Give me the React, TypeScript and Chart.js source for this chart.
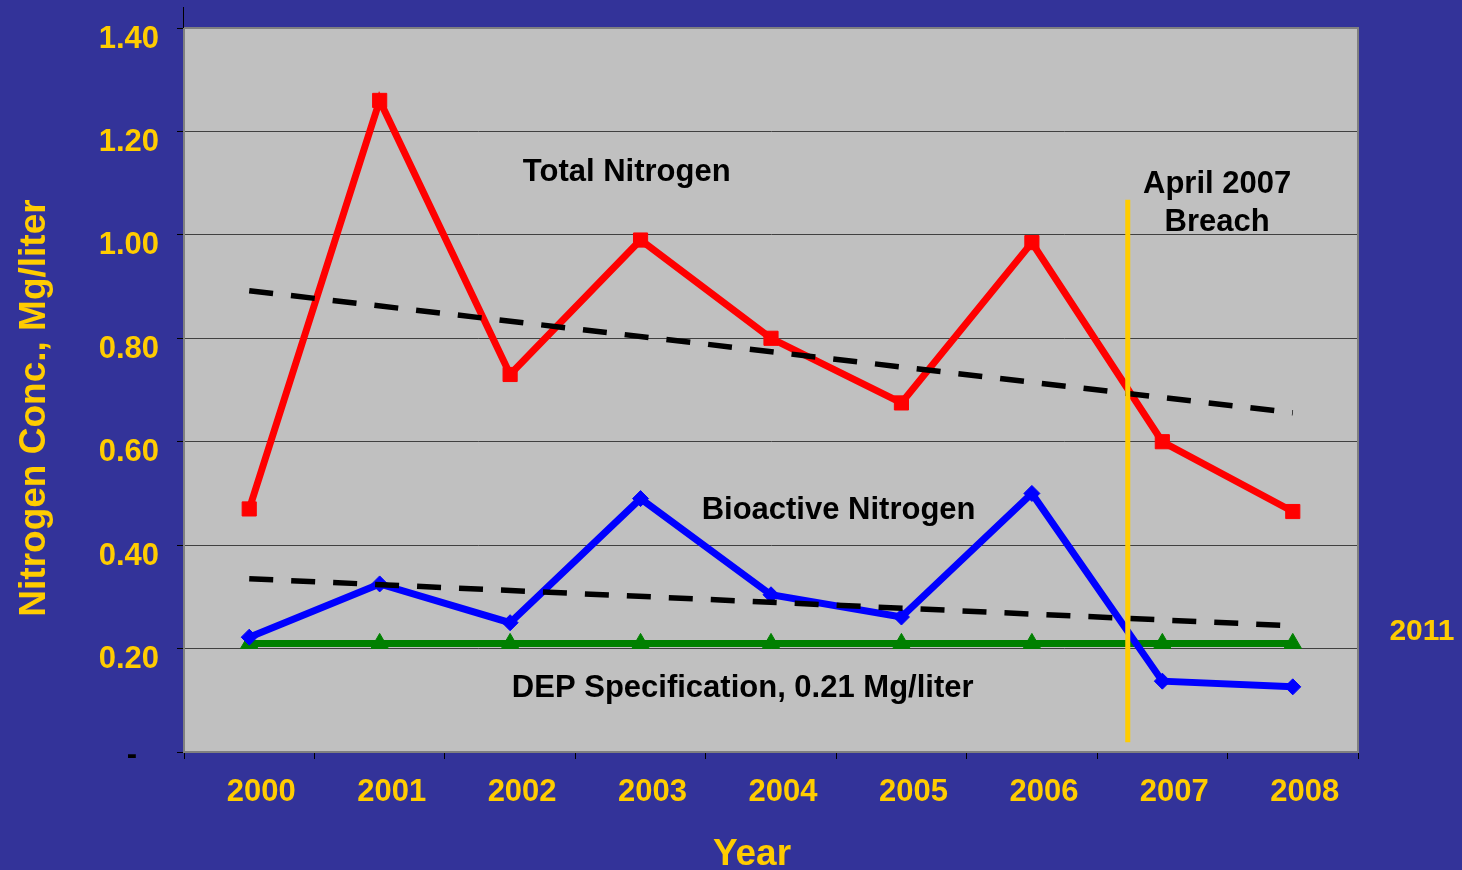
import React, { useEffect, useRef } from "react";
import { Chart, registerables } from "chart.js";

Chart.register(...registerables);

const years = ["2000", "2001", "2002", "2003", "2004", "2005", "2006", "2007", "2008"];
const totalNitrogen = [0.47, 1.26, 0.73, 0.99, 0.8, 0.675, 0.985, 0.6, 0.465];
const bioactiveNitrogen = [0.222, 0.325, 0.25, 0.49, 0.304, 0.261, 0.5, 0.137, 0.126];
const depSpec = [0.21, 0.21, 0.21, 0.21, 0.21, 0.21, 0.21, 0.21, 0.21];
const totalTrend = [0.892, null, null, null, null, null, null, null, 0.656];
const bioTrend = [0.335, null, null, null, null, null, null, null, 0.244];
const breachLine = [
  { x: 6.735, y: 1.068 },
  { x: 6.735, y: 0.019 },
];
const yTicks = [0, 0.2, 0.4, 0.6, 0.8, 1.0, 1.2, 1.4];

const FONT = "'Liberation Sans', Arial, sans-serif";
const YELLOW = "#FFCC00";

const decorPlugin = {
  id: "decor",
  beforeDatasetsDraw(chart: any) {
    const { ctx, chartArea } = chart;
    ctx.save();
    ctx.strokeStyle = "#808080";
    ctx.lineWidth = 2;
    ctx.strokeRect(chartArea.left, chartArea.top, chartArea.right - chartArea.left, chartArea.bottom - chartArea.top);
    ctx.strokeStyle = "#000";
    ctx.lineWidth = 1;
    ctx.beginPath();
    ctx.moveTo(chartArea.left - 0.5, 7);
    ctx.lineTo(chartArea.left - 0.5, chartArea.top);
    ctx.stroke();
    ctx.restore();
  },
  afterDraw(chart: any) {
    const { ctx, chartArea } = chart;
    const xs = chart.scales.x2;
    const ys = chart.scales.y;
    const notes = [
      { text: "Total Nitrogen", x: 2.894, y: 1.12, color: "#000", size: 31 },
      { text: "Bioactive Nitrogen", x: 4.518, y: 0.467, color: "#000", size: 31 },
      { text: "DEP Specification, 0.21 Mg/liter", x: 3.783, y: 0.122, color: "#000", size: 31 },
      { text: "April 2007", x: 7.42, y: 1.097, color: "#000", size: 31 },
      { text: "Breach", x: 7.42, y: 1.024, color: "#000", size: 31 },
      { text: "2011", x: 8.99, y: 0.232, color: YELLOW, size: 30 },
    ];
    ctx.save();
    ctx.textAlign = "center";
    ctx.textBaseline = "middle";
    for (const n of notes) {
      ctx.fillStyle = n.color;
      ctx.font = `bold ${n.size}px ${FONT}`;
      ctx.fillText(n.text, xs.getPixelForValue(n.x), ys.getPixelForValue(n.y));
    }
    // zero tick label, Excel accounting style dash
    ctx.fillStyle = "#000";
    ctx.font = `bold 31px ${FONT}`;
    ctx.textAlign = "right";
    ctx.fillText("-", chartArea.left - 47, ys.getPixelForValue(0) + 3);
    // axis titles
    ctx.textAlign = "center";
    ctx.fillStyle = YELLOW;
    ctx.font = `bold 37px ${FONT}`;
    ctx.textBaseline = "alphabetic";
    ctx.fillText("Year", 752, 865);
    ctx.translate(45, 408);
    ctx.rotate(-Math.PI / 2);
    ctx.fillText("Nitrogen Conc., Mg/liter", 0, 0);
    ctx.restore();
  },
};

export default function App() {
  const canvasRef = useRef<HTMLCanvasElement | null>(null);

  useEffect(() => {
    const canvas = canvasRef.current;
    if (!canvas) return;
    const chart = new Chart(canvas, {
      type: "line",
      data: {
        labels: years,
        datasets: [
          {
            label: "April 2007 Breach",
            data: breachLine as any,
            xAxisID: "x2",
            borderColor: YELLOW,
            borderWidth: 5,
            pointRadius: 0,
            order: 0,
          },
          {
            label: "Total trend",
            data: totalTrend,
            spanGaps: true,
            borderColor: "#000",
            borderWidth: 5.5,
            borderDash: [24, 18],
            pointRadius: 0,
            order: 1,
          },
          {
            label: "Bioactive trend",
            data: bioTrend,
            spanGaps: true,
            borderColor: "#000",
            borderWidth: 5.5,
            borderDash: [24, 18],
            pointRadius: 0,
            order: 1,
          },
          {
            label: "Total Nitrogen",
            data: totalNitrogen,
            borderColor: "#FF0000",
            backgroundColor: "#FF0000",
            borderWidth: 7,
            pointStyle: "rect",
            pointRadius: 10,
            pointBorderWidth: 1,
            order: 2,
          },
          {
            label: "Bioactive Nitrogen",
            data: bioactiveNitrogen,
            borderColor: "#0000FF",
            backgroundColor: "#0000FF",
            borderWidth: 7,
            pointStyle: "rectRot",
            pointRadius: 8,
            pointBorderWidth: 1,
            order: 3,
          },
          {
            label: "DEP Specification, 0.21 Mg/liter",
            data: depSpec,
            borderColor: "#008000",
            backgroundColor: "#008000",
            borderWidth: 7,
            pointStyle: "triangle",
            pointRadius: 10,
            pointBorderWidth: 1,
            order: 4,
          },
        ],
      },
      options: {
        animation: false,
        responsive: false,
        maintainAspectRatio: false,
        layout: { padding: { left: 0, top: 28, right: 104, bottom: 0 } },
        plugins: {
          legend: { display: false },
          tooltip: { enabled: false },
        },
        elements: { line: { tension: 0 } },
        scales: {
          x: {
            type: "category",
            offset: true,
            grid: {
              offset: true,
              drawOnChartArea: false,
              drawTicks: true,
              tickLength: 7,
              tickColor: "#000",
            },
            border: { display: true, color: "#404040", width: 2 },
            ticks: {
              color: YELLOW,
              font: { family: FONT, size: 31, weight: "bold" },
              labelOffset: 12,
              padding: 15,
              maxRotation: 0,
              autoSkip: false,
            },
            afterFit(scale: any) {
              scale.height = 118;
              scale.paddingLeft = 0;
              scale.paddingRight = 0;
            },
          },
          x2: {
            type: "linear",
            display: false,
            min: -0.5,
            max: 8.5,
          },
          y: {
            min: 0,
            max: 1.4,
            afterBuildTicks(scale: any) {
              scale.ticks = yTicks.map((v) => ({ value: v }));
            },
            grid: {
              color: "#404040",
              lineWidth: 1,
              drawTicks: true,
              tickLength: 7,
              tickColor: "#000",
            },
            border: { display: true, color: "#000", width: 1 },
            ticks: {
              color: YELLOW,
              font: { family: FONT, size: 31, weight: "bold" },
              padding: 18,
              labelOffset: 11,
              callback: (v: any) => (Number(v) === 0 ? "" : Number(v).toFixed(2)),
            },
            afterFit(scale: any) {
              scale.width = 184;
              scale.paddingTop = 0;
              scale.paddingBottom = 0;
            },
          },
        },
      },
      plugins: [
        {
          id: "plotBg",
          beforeDraw(chart: any) {
            const { ctx, chartArea } = chart;
            ctx.save();
            ctx.fillStyle = "#C0C0C0";
            ctx.fillRect(chartArea.left, chartArea.top, chartArea.right - chartArea.left, chartArea.bottom - chartArea.top);
            ctx.restore();
          },
        },
        decorPlugin,
      ],
    });
    return () => chart.destroy();
  }, []);

  return (
    <div style={{ position: "absolute", left: 0, top: 0, width: 1462, height: 870, background: "#333399" }}>
      <canvas ref={canvasRef} width={1462} height={870} style={{ display: "block" }} />
    </div>
  );
}
